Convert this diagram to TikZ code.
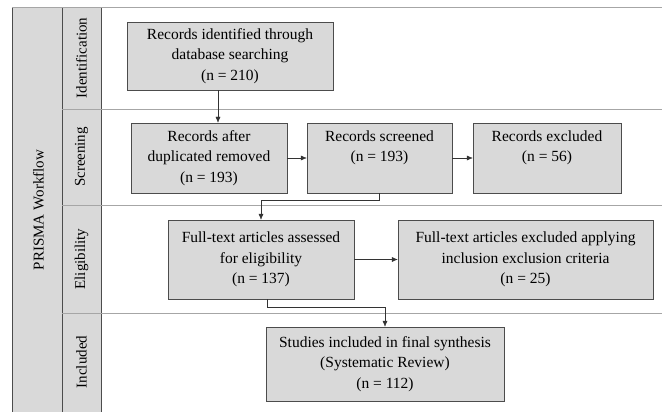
\documentclass[tikz,border=0pt]{standalone}
\usepackage{fontspec}
\setmainfont{Liberation Serif}
\usetikzlibrary{arrows.meta}
\tikzset{
  box/.style={draw=gray!60!black, fill=gray!30, align=center, inner sep=2pt, font=\fontsize{15.5}{20.5}\selectfont},
  lane/.style={draw=gray!60!black, fill=gray!30},
  sep/.style={draw=gray!70, line width=0.8pt},
  arr/.style={->, draw=black!80},
  phase/.style={rotate=90, font=\fontsize{15}{18}\selectfont}
}
\begin{document}
\begin{tikzpicture}[x=1pt, y=-1pt, >={Latex[length=6pt,width=5pt]}]
  \useasboundingbox (0,0) rectangle (662,412);

  % lanes
  \draw[lane] (12,7) rectangle (62,414);
  \draw[lane] (62,7) rectangle (101,414);
  \draw[sep] (12,7) -- (662,7);
  \foreach \y in {109,205,313} \draw[sep] (62,\y) -- (662,\y);
  \node[phase] (wf) at (38.5,210) {PRISMA Workflow};
  \node[phase] (idf) at (81.5,58) {Identification};
  \node[phase] (scn) at (81.5,157) {Screening};
  \node[phase] (elg) at (81.5,259) {Eligibility};
  \node[phase] (inc) at (81.5,362) {Included};

  % boxes
  \node[box, minimum width=206pt, minimum height=68pt] (ident) at (230,56) {Records identified through\\database searching\\(n = 210)};
  \node[box, minimum width=156pt, minimum height=70pt] (dup) at (209,158) {Records after\\duplicated removed\\(n = 193)};
  \node[box, minimum width=145pt, minimum height=70pt] (scr) at (379.5,158) {Records screened\\(n = 193)\\\phantom{(n)}};
  \node[box, minimum width=148pt, minimum height=70pt] (exc) at (547,158) {Records excluded\\(n = 56)\\\phantom{(n)}};
  \node[box, minimum width=186pt, minimum height=79pt] (full) at (261,259.5) {Full-text articles assessed\\for eligibility\\(n = 137)};
  \node[box, minimum width=255pt, minimum height=79pt] (ftex) at (525.5,259.5) {Full-text articles excluded applying\\inclusion exclusion criteria\\(n = 25)};
  \node[box, minimum width=238pt, minimum height=74pt] (stud) at (385,364) {Studies included in final synthesis\\(Systematic Review)\\(n = 112)};

  % connectors
  \draw[arr] ([xshift=-12pt]ident.south) -- ([xshift=-12pt]ident.south |- dup.north);
  \draw[arr] (dup) -- (scr);
  \draw[arr] (scr) -- (exc);
  \draw[arr] (scr.south) -- ++(0,7) -| (full.north);
  \draw[arr] (full) -- (ftex);
  \draw[arr] ([xshift=6pt]full.south) -- ++(0,8) -| (stud.north);
\end{tikzpicture}
\end{document}
